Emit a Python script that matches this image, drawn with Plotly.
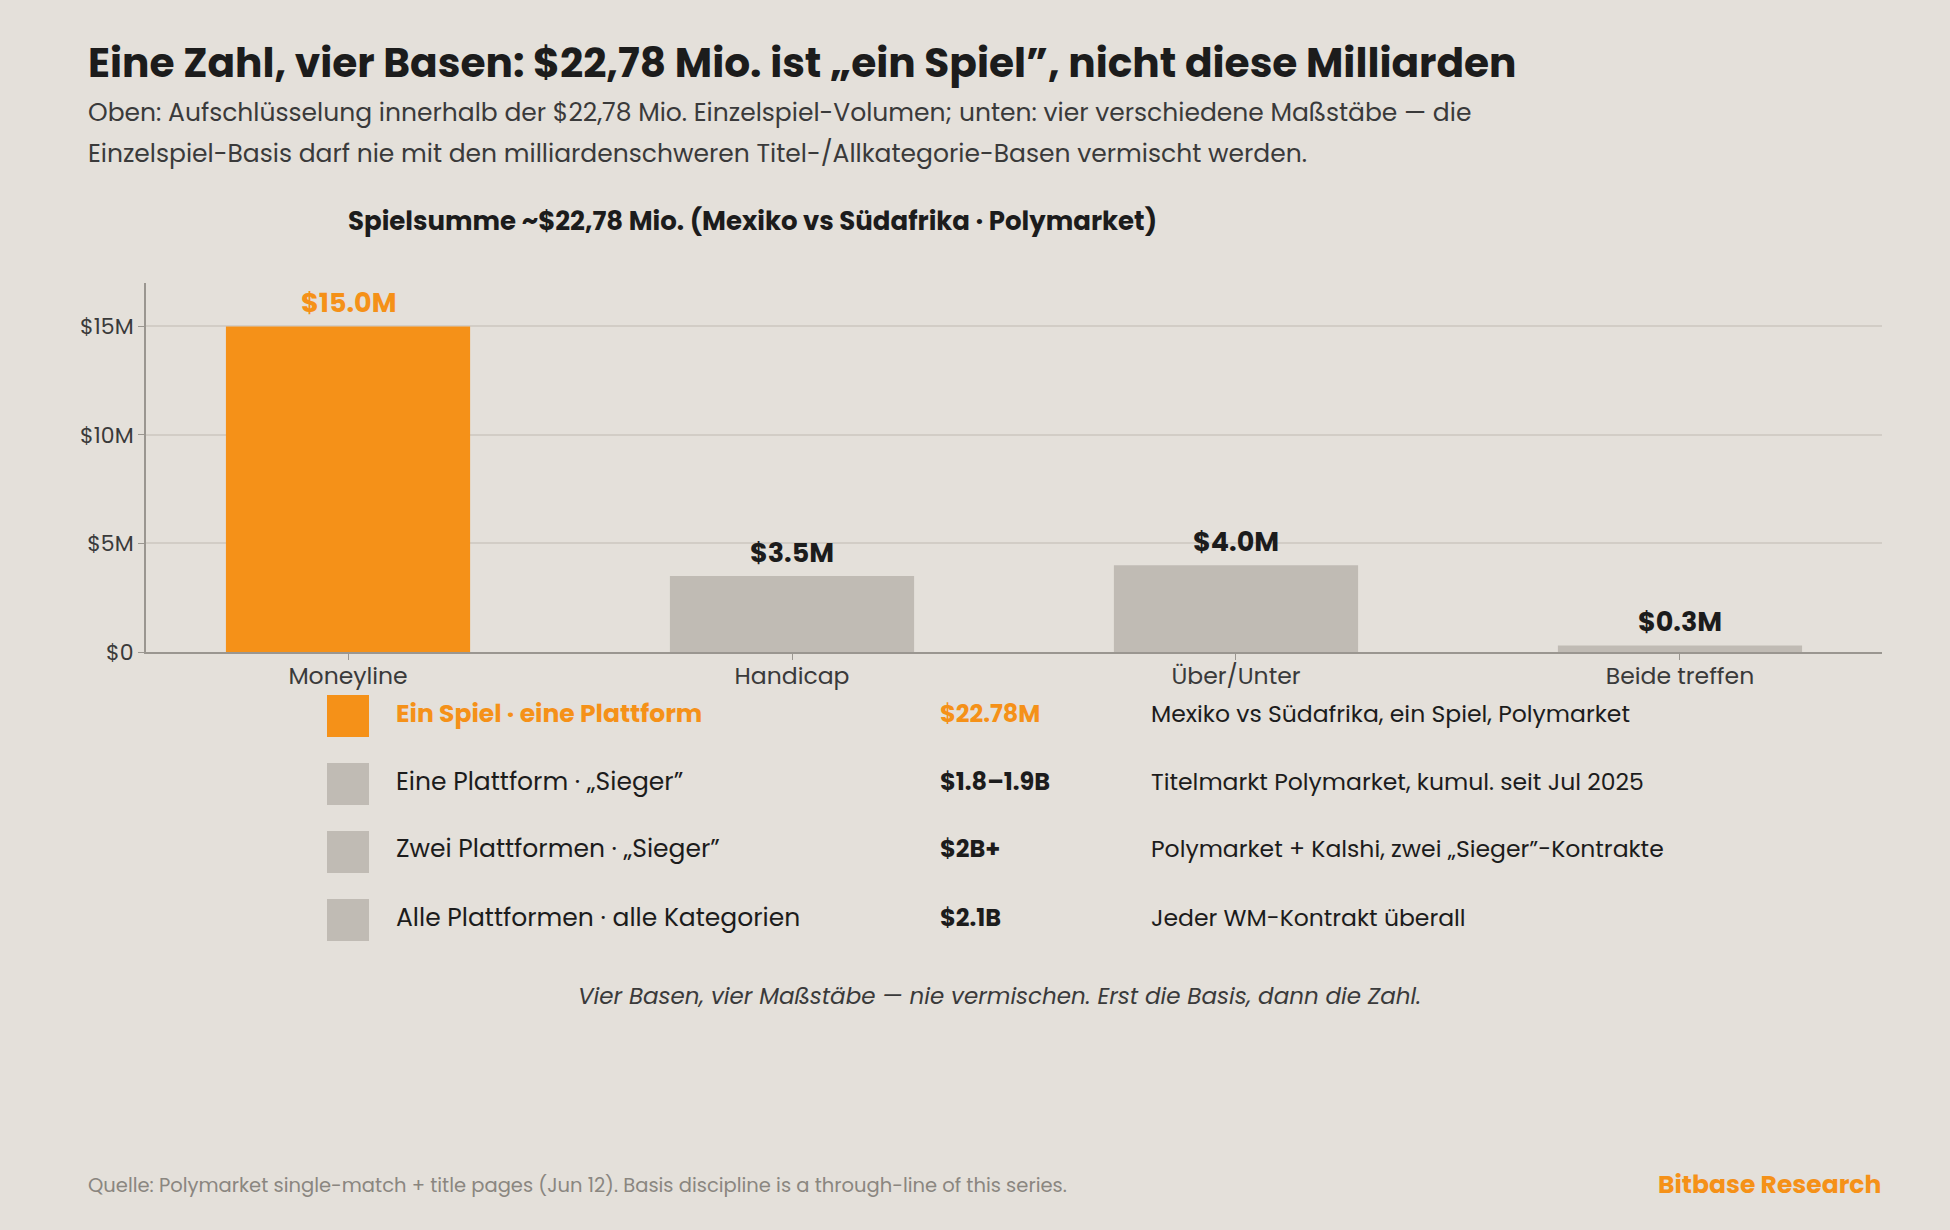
import plotly.graph_objects as go

W, H = 1950, 1230

# ---- data ----
categories = ["Moneyline", "Handicap", "Über/Unter", "Beide treffen"]
volumes_m = [15.0, 3.5, 4.0, 0.3]
highlight = [True, False, False, False]

y_ticks = [0, 5, 10, 15]
y_tick_labels = ["$0", "$5M", "$10M", "$15M"]

basis_labels = ["Ein Spiel · eine Plattform", "Eine Plattform · „Sieger”",
                "Zwei Plattformen · „Sieger”", "Alle Plattformen · alle Kategorien"]
basis_values = ["$22.78M", "$1.8–1.9B", "$2B+", "$2.1B"]
basis_notes = ["Mexiko vs Südafrika, ein Spiel, Polymarket",
               "Titelmarkt Polymarket, kumul. seit Jul 2025",
               "Polymarket + Kalshi, zwei „Sieger”-Kontrakte",
               "Jeder WM-Kontrakt überall"]
basis_highlight = [True, False, False, False]

# ---- style ----
BG = "#e4e0da"
ORANGE = "#f59118"
GREY_BAR = "#c0bbb4"
DARK = "#1c1c1c"
TEXT = "#3a3a3a"
FONT = "Poppins, Open Sans, sans-serif"

def px(x):
    return x / W

def py(y):
    return 1 - y / H

bar_colors = [ORANGE if h else GREY_BAR for h in highlight]

fig = go.Figure()
fig.add_trace(go.Bar(
    x=categories, y=volumes_m, width=0.55,
    marker=dict(color=bar_colors, line=dict(width=0)),
    hoverinfo="skip", showlegend=False,
))

annotations = []
# bar value labels
for c, v, h in zip(categories, volumes_m, highlight):
    annotations.append(dict(
        x=c, y=v, xref="x", yref="y", text=f"<b>${v:.1f}M</b>",
        showarrow=False, yanchor="bottom", yshift=3,
        font=dict(family=FONT, size=27, color=ORANGE if h else DARK),
    ))

# title / subtitle
annotations.append(dict(
    x=px(86), y=py(62), xref="paper", yref="paper", xanchor="left", yanchor="middle",
    text="<b>Eine Zahl, vier Basen: $22,78 Mio. ist „ein Spiel”, nicht diese Milliarden</b>",
    showarrow=False, font=dict(family=FONT, size=40.7, color=DARK)))
annotations.append(dict(
    x=px(86), y=py(112), xref="paper", yref="paper", xanchor="left", yanchor="middle",
    text="Oben: Aufschlüsselung innerhalb der $22,78 Mio. Einzelspiel-Volumen; unten: vier verschiedene Maßstäbe — die",
    showarrow=False, font=dict(family=FONT, size=25, color=TEXT)))
annotations.append(dict(
    x=px(86), y=py(153), xref="paper", yref="paper", xanchor="left", yanchor="middle",
    text="Einzelspiel-Basis darf nie mit den milliardenschweren Titel-/Allkategorie-Basen vermischt werden.",
    showarrow=False, font=dict(family=FONT, size=25, color=TEXT)))
annotations.append(dict(
    x=px(752), y=py(221), xref="paper", yref="paper", xanchor="center", yanchor="middle",
    text="<b>Spielsumme ~$22,78 Mio. (Mexiko vs Südafrika · Polymarket)</b>",
    showarrow=False, font=dict(family=FONT, size=26, color=DARK)))

# basis rows
shapes = []
row_y = [716, 784, 852, 920]
for i, (lab, val, note, h) in enumerate(zip(basis_labels, basis_values, basis_notes, basis_highlight)):
    yc = row_y[i]
    ty = yc - 3
    shapes.append(dict(type="rect", xref="paper", yref="paper",
                       x0=px(327), x1=px(369), y0=py(yc - 21), y1=py(yc + 21),
                       fillcolor=ORANGE if h else GREY_BAR, line=dict(width=0)))
    annotations.append(dict(
        x=px(394), y=py(ty), xref="paper", yref="paper", xanchor="left", yanchor="middle",
        text=f"<b>{lab}</b>" if h else lab, showarrow=False,
        font=dict(family=FONT, size=25, color=ORANGE if h else DARK)))
    annotations.append(dict(
        x=px(938), y=py(ty), xref="paper", yref="paper", xanchor="left", yanchor="middle",
        text=f"<b>{val}</b>", showarrow=False,
        font=dict(family=FONT, size=24, color=ORANGE if h else DARK)))
    annotations.append(dict(
        x=px(1149), y=py(ty), xref="paper", yref="paper", xanchor="left", yanchor="middle",
        text=note, showarrow=False,
        font=dict(family=FONT, size=23.5, color=DARK)))

annotations.append(dict(
    x=px(999), y=py(996), xref="paper", yref="paper", xanchor="center", yanchor="middle",
    text="<i>Vier Basen, vier Maßstäbe — nie vermischen. Erst die Basis, dann die Zahl.</i>",
    showarrow=False, font=dict(family=FONT, size=23, color=TEXT)))

annotations.append(dict(
    x=px(86), y=py(1185), xref="paper", yref="paper", xanchor="left", yanchor="middle",
    text="Quelle: Polymarket single-match + title pages (Jun 12). Basis discipline is a through-line of this series.",
    showarrow=False, font=dict(family=FONT, size=19.5, color="#8a8680")))
annotations.append(dict(
    x=px(1883), y=py(1184), xref="paper", yref="paper", xanchor="right", yanchor="middle",
    text="<b>Bitbase Research</b>",
    showarrow=False, font=dict(family=FONT, size=25, color=ORANGE)))

fig.update_layout(
    width=W, height=H,
    margin=dict(l=0, r=0, t=0, b=0),
    paper_bgcolor=BG, plot_bgcolor=BG,
    font=dict(family=FONT, color=TEXT),
    annotations=annotations, shapes=shapes,
    xaxis=dict(
        domain=[px(146), px(1882)],
        range=[-0.455, 3.455],
        showgrid=False, showline=True, linecolor="#9a9690", linewidth=2,
        ticks="outside", ticklen=6, tickcolor="#9a9690",
        tickfont=dict(family=FONT, size=23.5, color=TEXT),
        ticklabelstandoff=-4,
        automargin=False, fixedrange=True,
    ),
    yaxis=dict(
        domain=[py(652), py(283)],
        range=[0, 17],
        tickvals=y_ticks, ticktext=y_tick_labels,
        showgrid=True, gridcolor="#d2cdc6", gridwidth=1.5,
        zeroline=False, showline=True, linecolor="#9a9690", linewidth=2,
        ticks="outside", ticklen=6, tickcolor="#9a9690",
        tickfont=dict(family=FONT, size=22, color=TEXT),
        automargin=False, fixedrange=True,
    ),
    bargap=0.45,
)

fig.write_html("out.html")
